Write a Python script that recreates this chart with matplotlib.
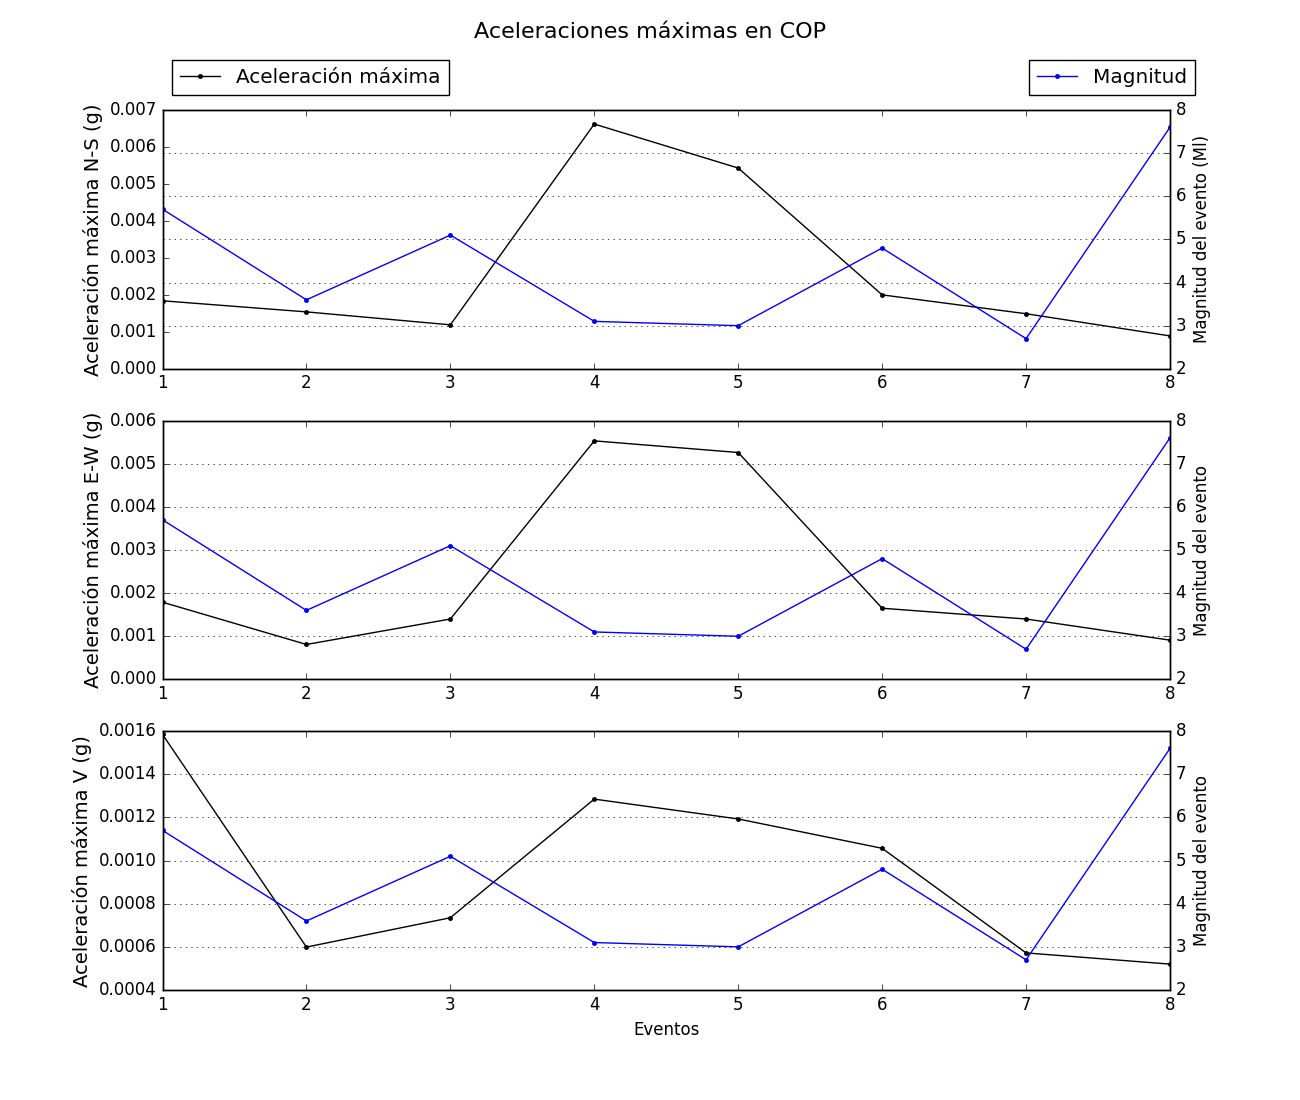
import matplotlib
matplotlib.use('Agg')
import matplotlib.pyplot as plt

plt.style.use('classic')

eventos = [1, 2, 3, 4, 5, 6, 7, 8]
magnitud = [5.7, 3.6, 5.1, 3.1, 3.0, 4.8, 2.7, 7.6]

acc_ns = [0.00184, 0.00154, 0.00119, 0.00662, 0.00543, 0.00200, 0.00149, 0.00089]
acc_ew = [0.00179, 0.00081, 0.00140, 0.00553, 0.00526, 0.00165, 0.00140, 0.00091]
acc_v = [0.001585, 0.000599, 0.000735, 0.001285, 0.001193, 0.001057, 0.000572, 0.00052]

componentes = [acc_ns, acc_ew, acc_v]
etiquetas = ['Aceleración máxima N-S (g)', 'Aceleración máxima E-W (g)', 'Aceleración máxima V (g)']
etiq_mag = ['Magnitud del evento (Ml)', 'Magnitud del evento', 'Magnitud del evento']
limites = [(0, 0.007), (0, 0.006), (0.0004, 0.0016)]

fig = plt.figure(figsize=(13, 11), dpi=100)
fig.patch.set_facecolor('white')
fig.suptitle('Aceleraciones máximas en COP', fontsize=16, y=0.98)

for i in range(3):
    ax = fig.add_subplot(3, 1, i + 1)
    l1, = ax.plot(eventos, componentes[i], 'k.-', label='Aceleración máxima')
    ax.set_ylim(limites[i])
    ax.set_xlim(1, 8)
    ax.set_ylabel(etiquetas[i], fontsize=14)
    ax2 = ax.twinx()
    l2, = ax2.plot(eventos, magnitud, 'b.-', label='Magnitud')
    ax2.set_ylim(2, 8)
    ax2.set_xlim(1, 8)
    ax2.set_ylabel(etiq_mag[i], fontsize=12)
    ax2.grid(True)
    if i == 0:
        ax.legend(handles=[l1], loc='lower left', bbox_to_anchor=(0.0099, 1.058),
                  borderaxespad=0, fontsize=14.4, numpoints=1)
        ax2.legend(handles=[l2], loc='lower right', bbox_to_anchor=(1.0248, 1.058),
                   borderaxespad=0, fontsize=14.4, numpoints=1)
    if i == 2:
        ax.set_xlabel('Eventos', fontsize=12)

plt.savefig('out.png', dpi=100)
